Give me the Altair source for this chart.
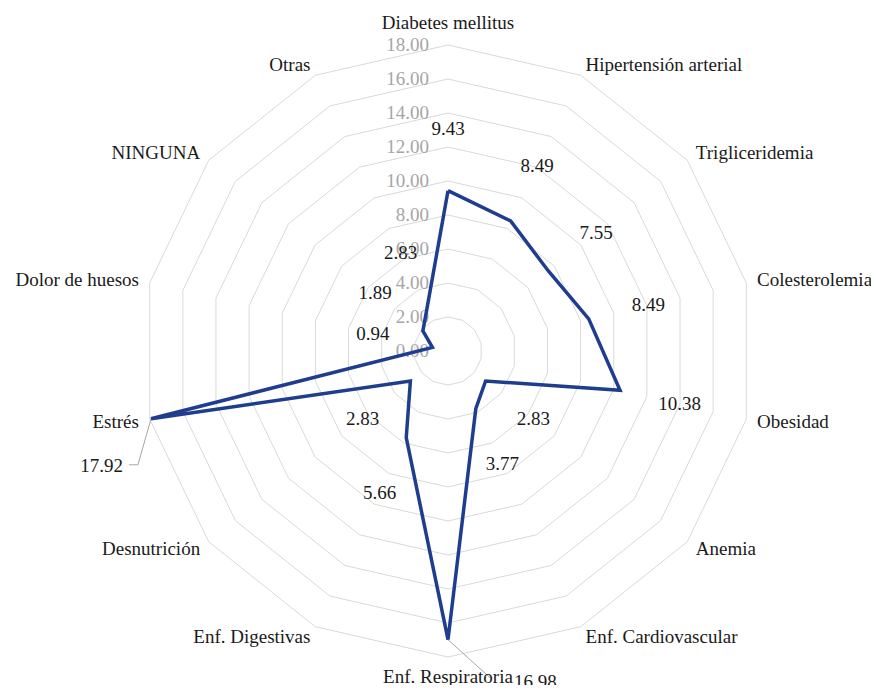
import numpy as np
import pandas as pd
import altair as alt

# ---- data ----
categories = ["Diabetes mellitus", "Hipertensión arterial", "Trigliceridemia",
              "Colesterolemia", "Obesidad", "Anemia", "Enf. Cardiovascular",
              "Enf. Respiratoria", "Enf. Digestivas", "Desnutrición", "Estrés",
              "Dolor de huesos", "NINGUNA", "Otras"]
values = [9.43, 8.49, 7.55, 8.49, 10.38, 2.83, 3.77, 16.98, 5.66, 2.83,
          17.92, 0.94, 1.89, 2.83]
tick_values = [0, 2, 4, 6, 8, 10, 12, 14, 16, 18]
tick_labels = ["0.00", "2.00", "4.00", "6.00", "8.00", "10.00", "12.00",
               "14.00", "16.00", "18.00"]
leader_categories = ["Estrés", "Enf. Respiratoria"]

# ---- layout ----
PX = 17.0            # pixels per data unit
W, H = 863, 677      # plot size
CX, CY = 440, 343    # centre of the radar in plot pixels
RMAX = 18
FONT = "'Liberation Serif', 'Times New Roman', 'DejaVu Serif', serif"
FS = 19
LINE_COLOR = "#1f3d8f"
GRID_COLOR = "#d9d9d9"
TICK_COLOR = "#a6a6a6"
TEXT_COLOR = "#1a1a1a"

n = len(categories)
angles = [2 * np.pi * i / n for i in range(n)]


def pol(r, a):
    return r * np.sin(a), r * np.cos(a)


xs = alt.Scale(domain=[-CX / PX, (W - CX) / PX], nice=False, zero=False)
ys = alt.Scale(domain=[-(H - CY) / PX, CY / PX], nice=False, zero=False)


def X(f="x"):
    return alt.X(f"{f}:Q", scale=xs, axis=None)


def Y(f="y"):
    return alt.Y(f"{f}:Q", scale=ys, axis=None)


# grid rings
rows = []
for r in tick_values[1:]:
    for k in range(n + 1):
        a = angles[k % n]
        x, y = pol(r, a)
        rows.append({"ring": r, "k": k, "x": x, "y": y})
grid_df = pd.DataFrame(rows)
grid = alt.Chart(grid_df).mark_line(color=GRID_COLOR, strokeWidth=1).encode(
    x=X(), y=Y(), detail="ring:N", order="k:Q")

# series polygon
rows = []
for k in range(n + 1):
    i = k % n
    x, y = pol(values[i], angles[i])
    rows.append({"k": k, "x": x, "y": y, "cat": categories[i]})
series_df = pd.DataFrame(rows)
series = alt.Chart(series_df).mark_line(
    color=LINE_COLOR, strokeWidth=3.5, strokeJoin="miter").encode(
    x=X(), y=Y(), order="k:Q")

# axis tick labels (along the top spoke)
tick_df = pd.DataFrame({"x": [-19 / PX] * len(tick_values),
                        "y": tick_values, "t": tick_labels})
ticks = alt.Chart(tick_df).mark_text(
    font=FONT, fontSize=FS, color=TICK_COLOR, align="right",
    baseline="middle").encode(x=X(), y=Y(), text="t:N")

# category labels
rows = []
for i, c in enumerate(categories):
    a = angles[i]
    vx, vy = pol(RMAX, a)
    deg = np.degrees(a)
    if abs(deg) < 1e-6:
        side = "top"; gx, gy = 0, 16 / PX
    elif abs(deg - 180) < 1e-6:
        side = "bottom"; gx, gy = 0, -11 / PX
    else:
        side = "left" if deg < 180 else "right"
        gx, gy = pol(11 / PX, a)
    rows.append({"cat": c, "x": vx + gx, "y": vy + gy, "side": side})
cat_df = pd.DataFrame(rows)


def cat_layer(side, align, baseline):
    return alt.Chart(cat_df).transform_filter(
        alt.datum.side == side).mark_text(
        font=FONT, fontSize=FS, color=TEXT_COLOR, align=align,
        baseline=baseline).encode(x=X(), y=Y(), text="cat:N")


cat_labels = (cat_layer("top", "center", "alphabetic")
              + cat_layer("bottom", "center", "top")
              + cat_layer("left", "left", "middle")
              + cat_layer("right", "right", "middle"))

# data labels
rows = []
for i, c in enumerate(categories):
    if c in leader_categories:
        continue
    x, y = pol(values[i] + 3.6, angles[i])
    rows.append({"x": x, "y": y, "t": f"{values[i]:.2f}"})
dl_df = pd.DataFrame(rows)
data_labels = alt.Chart(dl_df).mark_text(
    font=FONT, fontSize=FS, color=TEXT_COLOR, align="center",
    baseline="middle").encode(x=X(), y=Y(), text="t:N")

# leader-line labels for the two outer values
ie = categories.index("Estrés")
ir = categories.index("Enf. Respiratoria")
ex, ey = pol(values[ie], angles[ie])
rx, ry = pol(values[ir], angles[ir])
leader_df = pd.DataFrame([
    {"g": "e", "k": 0, "x": ex, "y": ey},
    {"g": "e", "k": 1, "x": ex - 13 / PX, "y": ey - 46 / PX},
    {"g": "e", "k": 2, "x": ex - 22 / PX, "y": ey - 46 / PX},
    {"g": "r", "k": 0, "x": rx, "y": ry},
    {"g": "r", "k": 1, "x": rx + 42 / PX, "y": ry - 38 / PX},
])
leaders = alt.Chart(leader_df).mark_line(color="#a6a6a6", strokeWidth=1).encode(
    x=X(), y=Y(), detail="g:N", order="k:Q")
lab_e = alt.Chart(pd.DataFrame([{"x": ex - 28 / PX, "y": ey - 47 / PX,
                                 "t": f"{values[ie]:.2f}"}])).mark_text(
    font=FONT, fontSize=FS, color=TEXT_COLOR, align="right",
    baseline="middle").encode(x=X(), y=Y(), text="t:N")
lab_r = alt.Chart(pd.DataFrame([{"x": rx + 66 / PX, "y": ry - 42 / PX,
                                 "t": f"{values[ir]:.2f}"}])).mark_text(
    font=FONT, fontSize=FS, color=TEXT_COLOR, align="left",
    baseline="middle").encode(x=X(), y=Y(), text="t:N")

chart = alt.layer(grid, ticks, leaders, series, cat_labels, data_labels,
                  lab_e, lab_r).properties(
    width=W, height=H,
    autosize=alt.AutoSizeParams(type="none"),
    padding=0,
    background="white",
).configure_view(stroke=None)

chart.save("out.html", embed_options={"renderer": "svg", "actions": False})
